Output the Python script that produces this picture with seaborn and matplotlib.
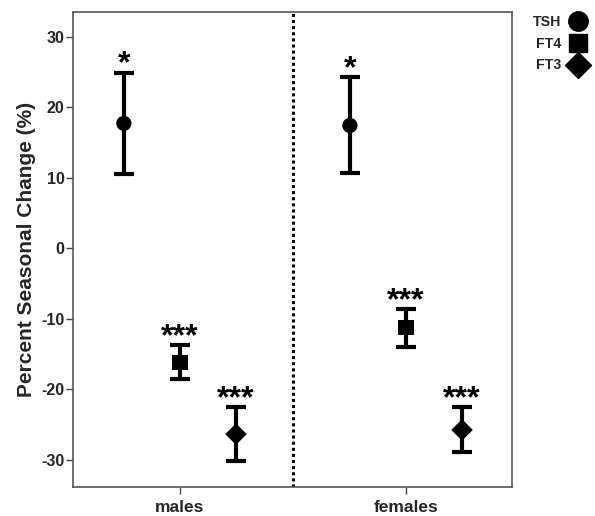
import matplotlib
matplotlib.use("Agg")
import matplotlib.pyplot as plt
import seaborn as sns
import pandas as pd
import numpy as np
from matplotlib.lines import Line2D

sns.set_theme(style="white")
plt.rcParams['font.family'] = ['Liberation Sans', 'DejaVu Sans']

# Data
sexes = ["males", "females"]
hormones = ["TSH", "FT4", "FT3"]
males_mean = [17.7, -16.2, -26.4]
males_low = [10.5, -18.6, -30.2]
males_high = [24.9, -13.8, -22.6]
females_mean = [17.4, -11.3, -25.8]
females_low = [10.6, -14.0, -29.0]
females_high = [24.3, -8.7, -22.6]
signif_males = ["*", "***", "***"]
signif_females = ["*", "***", "***"]

rows = []
for si, (sex, mean, low, high, sig) in enumerate([
        ("males", males_mean, males_low, males_high, signif_males),
        ("females", females_mean, females_low, females_high, signif_females)]):
    for hi, h in enumerate(hormones):
        rows.append(dict(sex=sex, hormone=h, mean=mean[hi], low=low[hi],
                         high=high[hi], sig=sig[hi], x=si + (hi - 1) * 0.248))
df = pd.DataFrame(rows)

W, H = 595, 516
fig = plt.figure(figsize=(W / 100, H / 100), dpi=100)
ax = fig.add_axes([73 / W, 1 - 487 / H, (512 - 73) / W, (487 - 12) / H])

markers = {"TSH": "o", "FT4": "s", "FT3": "D"}
msizes = {"TSH": 11, "FT4": 10, "FT3": 10}

for _, r in df.iterrows():
    ax.errorbar(r["x"], r["mean"],
                yerr=[[r["mean"] - r["low"]], [r["high"] - r["mean"]]],
                fmt="none", ecolor="black", elinewidth=3, capsize=7,
                capthick=3, zorder=2)

sns.scatterplot(data=df, x="x", y="mean", style="hormone", markers=markers,
                style_order=hormones, color="black", s=120, edgecolor="black",
                linewidth=0, legend=False, ax=ax, zorder=3)

for _, r in df.iterrows():
    ax.annotate(r["sig"], (r["x"], r["high"]), xytext=(0, -5),
                textcoords="offset points", ha="center", va="bottom",
                fontsize=23, fontweight="bold", color="black")

ax.axvline(0.5, color="black", linestyle=(0, (1, 1)), linewidth=2.2, zorder=1)

ax.set_xlim(-0.473, 1.469)
ax.set_ylim(-33.9, 33.5)
ax.set_xticks([0, 1])
ax.set_xticklabels(sexes, fontsize=12.5, fontweight="bold")
ax.set_yticks([-30, -20, -10, 0, 10, 20, 30])
ax.set_yticklabels([str(v) for v in [-30, -20, -10, 0, 10, 20, 30]],
                   fontsize=11.5, fontweight="bold")
ax.tick_params(axis="both", direction="out", length=5, width=1,
               color="#444444", left=True, bottom=True, pad=1)
ax.tick_params(axis="x", pad=4)
ax.set_xlabel("")
ax.set_ylabel("Percent Seasonal Change (%)", fontsize=15, fontweight="bold",
              labelpad=4)
for s in ax.spines.values():
    s.set_color("#555555")
    s.set_linewidth(1.2)

handles = [Line2D([], [], linestyle="none", marker=markers[h], color="black",
                  markersize=msizes[h] + 3) for h in hormones]
leg = fig.legend(handles, hormones, loc="upper left",
                 bbox_to_anchor=(523 / W, 1 - 5 / H), markerfirst=False,
                 frameon=False, prop={"weight": "bold", "size": 10.2},
                 handlelength=2.1, handletextpad=0.1, labelspacing=0.55,
                 borderpad=0.2)

fig.savefig("out.png", dpi=100)
